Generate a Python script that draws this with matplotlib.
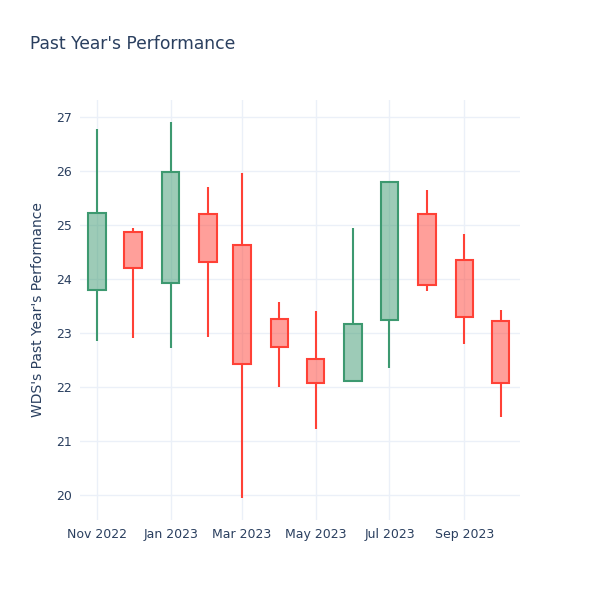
import numpy as np
import pandas as pd
import matplotlib
matplotlib.use('Agg')
import matplotlib.pyplot as plt
import matplotlib.dates as mdates

plt.rcParams['font.family'] = ['DejaVu Sans']

# monthly candles
months = ['2022-11-01', '2022-12-01', '2023-01-01', '2023-02-01', '2023-03-01', '2023-04-01',
          '2023-05-01', '2023-06-01', '2023-07-01', '2023-08-01', '2023-09-01', '2023-10-01']
opens = [23.80, 24.86, 23.93, 25.20, 24.62, 23.25, 22.52, 22.12, 23.24, 25.21, 24.35, 23.23]
highs = [26.78, 24.94, 26.91, 25.71, 25.96, 23.57, 23.41, 24.94, 25.82, 25.64, 24.83, 23.43]
lows = [22.86, 22.90, 22.72, 22.92, 19.94, 22.01, 21.22, 22.12, 22.36, 23.78, 22.79, 21.45]
closes = [25.22, 24.21, 25.98, 24.32, 22.42, 22.75, 22.07, 23.17, 25.79, 23.88, 23.29, 22.07]

tick_dates = ['2022-11-01', '2023-01-01', '2023-03-01', '2023-05-01', '2023-07-01', '2023-09-01']
tick_labels = ['Nov 2022', 'Jan 2023', 'Mar 2023', 'May 2023', 'Jul 2023', 'Sep 2023']

up_col = '#3D9970'
down_col = '#FF4136'
txt_col = '#2a3f5f'
grid_col = '#ebf0f8'

fig = plt.figure(figsize=(6, 6), dpi=100)
ax = fig.add_axes([0.1333, 0.1333, 0.7334, 0.7])

x = mdates.date2num(pd.to_datetime(months))
box_w = 14.5

for xi, o, h, l, c in zip(x, opens, highs, lows, closes):
    col = up_col if c >= o else down_col
    lo, hi = min(o, c), max(o, c)
    ax.vlines(xi, l, lo, color=col, lw=1.5, zorder=3)
    ax.vlines(xi, hi, h, color=col, lw=1.5, zorder=3)
    ax.bar(xi, hi - lo, bottom=lo, width=box_w, color=col, alpha=0.5, lw=0, zorder=3)
    ax.bar(xi, hi - lo, bottom=lo, width=box_w, facecolor='none', edgecolor=col, lw=1.5, zorder=4)

ax.set_xlim(mdates.date2num(pd.Timestamp('2022-10-18')), mdates.date2num(pd.Timestamp('2023-10-17')))
ax.set_ylim(19.54, 27.31)

ax.set_xticks(mdates.date2num(pd.to_datetime(tick_dates)))
ax.set_xticklabels(tick_labels)
ax.set_yticks(range(20, 28))

ax.grid(True, color=grid_col, lw=1)
ax.set_axisbelow(True)
for s in ax.spines.values():
    s.set_visible(False)
ax.tick_params(length=0, labelsize=9, colors=txt_col, pad=6)

ax.set_ylabel("WDS's Past Year's Performance", fontsize=10, color=txt_col, labelpad=8)
fig.text(0.05, 0.926, "Past Year's Performance", fontsize=12.3, color=txt_col, va='center')

fig.savefig('out.png', dpi=100)
